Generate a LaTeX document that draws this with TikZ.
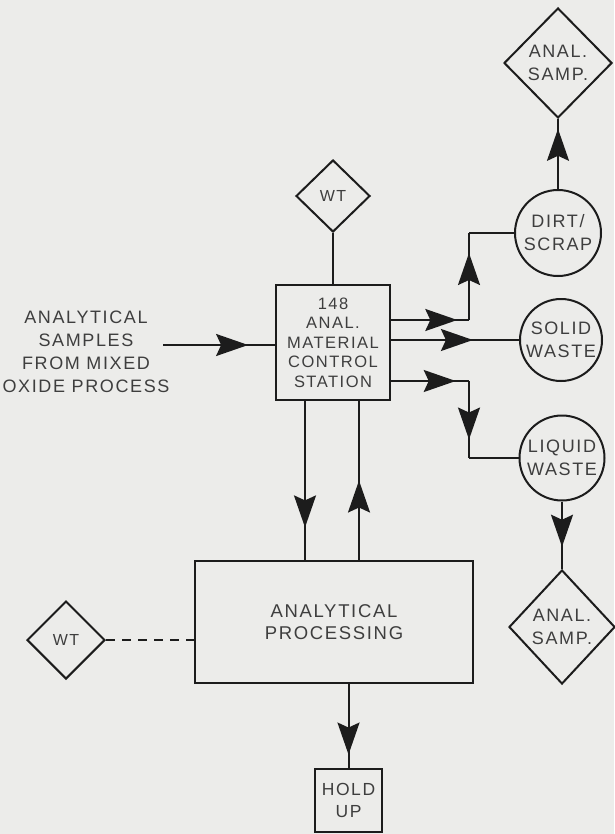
\documentclass[tikz,border=0pt]{standalone}
\usepackage{fontspec}
\setmainfont[LetterSpace=9]{Liberation Sans}
\usetikzlibrary{shapes.geometric,arrows.meta,decorations.markings,calc}
\definecolor{bg}{RGB}{236,236,234}
\definecolor{ink}{RGB}{28,28,28}
\definecolor{txt}{RGB}{62,62,62}
\tikzset{
  ah/.tip={Stealth[length=32pt,width=22pt,inset=5pt]},
  ln/.style={draw=ink,line width=2pt},
  markat/.style={postaction={decorate},decoration={markings,mark=at position #1 with {\arrow{ah}}}},
  lbl/.style={text=txt,font=\fontsize{18}{23}\selectfont,align=center,inner sep=0pt},
  box/.style={draw=ink,line width=2pt,fill=bg,text=txt,align=center,inner sep=0pt},
  circ/.style={box,circle,font=\fontsize{18}{23}\selectfont},
  dia/.style={box,diamond,font=\fontsize{18}{23}\selectfont},
}
\begin{document}
\begin{tikzpicture}[x=1pt,y=-1pt]
\fill[bg] (0,0) rectangle (614,834);
\useasboundingbox (0,0) rectangle (614,834);

% nodes
\node[box,minimum width=114pt,minimum height=115pt,font=\fontsize{16.5}{19.5}\selectfont] (station) at (333,342.5) {148\\ANAL.\\MATERIAL\\CONTROL\\STATION};
\node[dia,minimum width=74pt,minimum height=72pt,font=\fontsize{16}{18}\selectfont] (wt1) at (333,196) {WT};
\node[lbl] (inp) at (86,352) {ANALYTICAL\\SAMPLES\\FROM MIXED\\OXIDE PROCESS};
\coordinate (src) at (163,345);
\node[circ,minimum size=86pt] (dirt) at (558,233) {DIRT/\\SCRAP};
\node[circ,minimum size=82pt] (solid) at (561,340) {SOLID\\WASTE};
\node[circ,minimum size=85pt] (liquid) at (562,458) {LIQUID\\WASTE};
\node[dia,minimum width=108pt,minimum height=110pt] (stop) at (558,63) {ANAL.\\SAMP.};
\node[dia,minimum width=106pt,minimum height=114pt] (sbot) at (562,627) {ANAL.\\SAMP.};
\node[box,minimum width=278pt,minimum height=122pt,font=\fontsize{18.5}{22}\selectfont] (proc) at (334,622) {ANALYTICAL\\PROCESSING};
\node[dia,minimum width=78pt,minimum height=78pt,font=\fontsize{16}{18}\selectfont] (wt2) at (66,640) {WT};
\node[box,minimum width=67pt,minimum height=63pt,font=\fontsize{17.5}{22}\selectfont] (hold) at (348.5,800.5) {HOLD\\UP};

% connectors
\draw[ln,markat=0.76] (src) -- (station.west |- src);
\draw[ln] (wt1) -- (station);
\coordinate (b1) at (469,320);
\coordinate (b2) at (469,233);
\draw[ln,markat=0.85] (station.east |- b1) -- (b1);
\draw[ln,markat=0.77] (b1) -- (b2);
\draw[ln] (b2) -- (dirt);
\draw[ln,markat=0.64] (station.east |- solid) -- (solid);
\coordinate (b3) at (469,381);
\coordinate (b4) at (469,458);
\draw[ln,markat=0.83] (station.east |- b3) -- (b3);
\draw[ln,markat=0.76] (b3) -- (b4);
\draw[ln] (b4) -- (liquid);
\draw[ln,markat=0.86] (dirt) -- (stop);
\draw[ln,markat=0.67] (liquid) -- (sbot);
\draw[ln,markat=0.795] ([xshift=-28pt]station.south) -- ([xshift=-28pt]station.south |- proc.north);
\draw[ln,markat=0.5] ([xshift=26pt]station.south |- proc.north) -- ([xshift=26pt]station.south);
\draw[ln,markat=0.84] (proc.south -| hold) -- (hold.north);
\draw[ln,dash pattern=on 9pt off 7pt] (wt2.east) -- (proc.west |- wt2.east);
\end{tikzpicture}
\end{document}
